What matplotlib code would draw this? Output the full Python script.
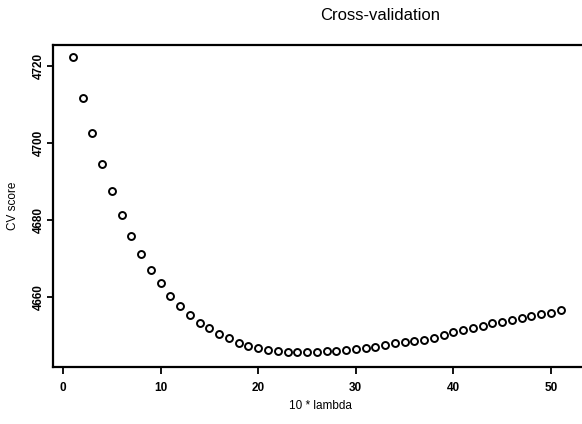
import matplotlib
matplotlib.use("Agg")
import matplotlib.pyplot as plt

plt.rcParams["font.family"] = ["Liberation Sans", "DejaVu Sans"]

# 10 * lambda (x) and cross-validation score (y)
lam10 = list(range(1, 52))
cv_score = [
    4722.3, 4711.7, 4702.5, 4694.5, 4687.5, 4681.3, 4676.0, 4671.2, 4667.1, 4663.6,
    4660.3, 4657.7, 4655.4, 4653.4, 4651.9, 4650.4, 4649.4, 4648.2, 4647.4, 4646.8,
    4646.4, 4646.1, 4645.9, 4645.8, 4645.8, 4645.9, 4646.0, 4646.1, 4646.4, 4646.6,
    4646.9, 4647.2, 4647.6, 4648.0, 4648.3, 4648.6, 4649.0, 4649.5, 4650.2, 4650.9,
    4651.4, 4652.0, 4652.5, 4653.2, 4653.6, 4654.0, 4654.5, 4655.1, 4655.6, 4656.0,
    4656.6,
]
x_ticks = [0, 10, 20, 30, 40, 50]
y_ticks = [4660, 4680, 4700, 4720]

W, H = 582, 424
fig = plt.figure(figsize=(W / 100, H / 100), dpi=100)
# plot region runs off the right edge of the picture
ax = fig.add_axes([53 / W, (H - 367) / H, 1 - 53 / W + 0.01, (367 - 45) / H])

ax.plot(lam10, cv_score, "o", ls="none", mfc="none", mec="black",
        ms=5, mew=1.4)

ax.set_xlim(-1.05, 53.8)
ax.set_ylim(4641.9, 4725.45)
ax.set_xticks(x_ticks)
ax.set_yticks(y_ticks)

for s in ["left", "bottom", "top"]:
    ax.spines[s].set_linewidth(1.6)
ax.spines["right"].set_visible(False)

ax.tick_params(axis="x", direction="out", length=5, width=1.3,
               labelsize=8.5, pad=6)
ax.tick_params(axis="y", direction="out", length=4, width=1.3,
               labelsize=8.5, pad=2)
for lbl in ax.get_xticklabels() + ax.get_yticklabels():
    lbl.set_fontweight("bold")
for lbl in ax.get_yticklabels():
    lbl.set_rotation(90)
    lbl.set_va("center")

ax.set_xlabel("10 * lambda", fontsize=8.5, labelpad=4)
ax.set_ylabel("CV score", fontsize=8.5, labelpad=10)
fig.text(380 / W, 1 - 15 / H, "Cross-validation", fontsize=12,
         ha="center", va="center")

fig.savefig("out.png", dpi=100)
